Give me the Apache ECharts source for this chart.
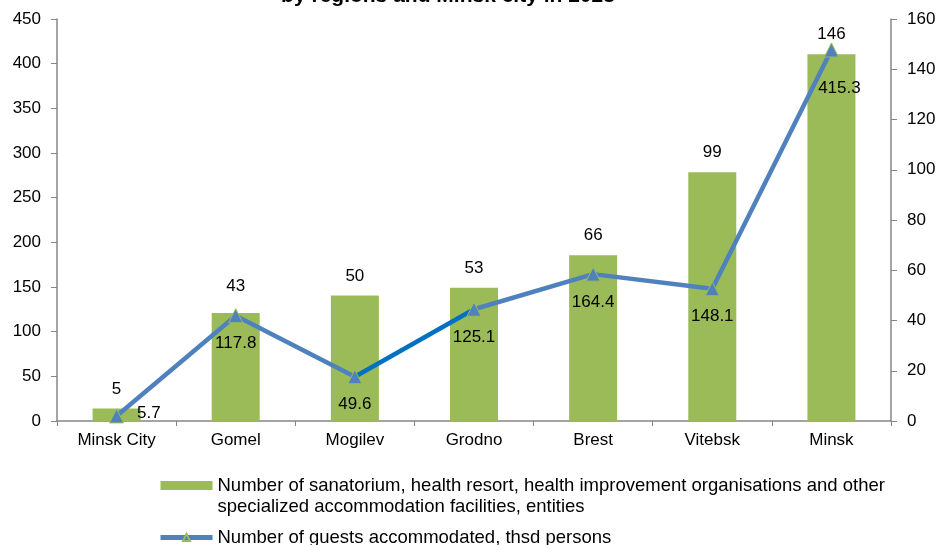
<!DOCTYPE html>
<html>
<head>
<meta charset="utf-8">
<script src="https://cdn.jsdelivr.net/npm/echarts@6/dist/echarts.min.js"></script>
<style>
  html, body { margin: 0; padding: 0; background: #fff; }
  #chart { width: 941px; height: 545px; }
</style>
</head>
<body>
<div id="chart"></div>
<script>
const regions = ["Minsk City", "Gomel", "Mogilev", "Grodno", "Brest", "Vitebsk", "Minsk"];
const facilities = [5, 43, 50, 53, 66, 99, 146];
const guests = [5.7, 117.8, 49.6, 125.1, 164.4, 148.1, 415.3];
const leftTicks = { min: 0, max: 450, interval: 50 };
const rightTicks = { min: 0, max: 160, interval: 20 };

const barName = "Number of sanatorium, health resort, health improvement organisations and other\nspecialized accommodation facilities, entities";
const lineName = "Number of guests accommodated, thsd persons";

const font = "'Liberation Sans', Arial, sans-serif";
const axisGray = "#868686";

const chart = echarts.init(document.getElementById("chart"));

// line: one segment (Mogilev -> Grodno) is drawn in a darker blue
const segStart = 2 / (regions.length - 1);
const segEnd = 3 / (regions.length - 1);
const lineColor = new echarts.graphic.LinearGradient(0, 0, 1, 0, [
  { offset: 0, color: "#4F81BD" },
  { offset: segStart, color: "#4F81BD" },
  { offset: segStart, color: "#0070C0" },
  { offset: segEnd, color: "#0070C0" },
  { offset: segEnd, color: "#4F81BD" },
  { offset: 1, color: "#4F81BD" }
]);

const barData = facilities.map((v, i) => {
  if (i === 1) return { value: v, label: { distance: 18 } };
  return v;
});
const lineData = guests.map((v, i) => {
  if (i === 0) return { value: v, label: { position: "right", distance: 13, offset: [0, -3] } };
  if (i === guests.length - 1) return { value: v, label: { offset: [8, 10] } };
  return v;
});

chart.setOption({
  backgroundColor: "#fff",
  animation: false,
  textStyle: { fontFamily: font },
  graphic: [{
    type: "text",
    x: 448,
    y: -3.5,
    style: {
      text: "by regions and Minsk city in 2023",
      font: "bold 21px " + font,
      fill: "#000",
      align: "center",
      verticalAlign: "middle"
    }
  }],
  grid: { left: 57, right: 50, top: 19, bottom: 124 },
  legend: {
    orient: "vertical",
    left: 153,
    top: 449,
    itemWidth: 52,
    itemHeight: 9,
    itemGap: 10,
    textStyle: {
      fontSize: 18.5, color: "#000", lineHeight: 21, fontFamily: font,
      rich: { g: { fontSize: 18.5, lineHeight: 21 } }
    },
    // empty first line keeps the icon level with the first text line
    formatter: (name) => name === barName ? "{g| }\n" + name : name,
    data: [
      { name: barName, icon: "rect" },
      { name: lineName, lineStyle: { color: "#4F81BD", width: 5 } }
    ]
  },
  xAxis: {
    type: "category",
    data: regions,
    axisLine: { lineStyle: { color: axisGray, width: 1.5 } },
    axisTick: { show: true, length: 5, lineStyle: { color: axisGray }, alignWithLabel: false },
    axisLabel: { color: "#000", fontSize: 17, margin: 11 }
  },
  yAxis: [
    {
      type: "value",
      position: "left",
      min: leftTicks.min,
      max: leftTicks.max,
      interval: leftTicks.interval,
      splitLine: { show: false },
      axisLine: { show: true, lineStyle: { color: axisGray, width: 1.5 } },
      axisTick: { show: true, inside: false, length: 6, lineStyle: { color: axisGray } },
      axisLabel: { color: "#000", fontSize: 17, margin: 16 }
    },
    {
      type: "value",
      position: "right",
      min: rightTicks.min,
      max: rightTicks.max,
      interval: rightTicks.interval,
      splitLine: { show: false },
      axisLine: { show: true, lineStyle: { color: axisGray, width: 1.5 } },
      axisTick: { show: true, inside: false, length: 6, lineStyle: { color: axisGray } },
      axisLabel: { color: "#000", fontSize: 17, margin: 16 }
    }
  ],
  series: [
    {
      name: barName,
      type: "bar",
      yAxisIndex: 1,
      barWidth: 48,
      data: barData,
      itemStyle: { color: "#9BBB59" },
      label: { show: true, position: "top", distance: 11, color: "#000", fontSize: 17 },
      z: 1
    },
    {
      name: lineName,
      type: "line",
      yAxisIndex: 0,
      data: lineData,
      symbol: "triangle",
      symbolSize: [14, 14],
      lineStyle: { color: lineColor, width: 4.5 },
      itemStyle: { color: "#4F81BD", borderColor: "#9BBB59", borderWidth: 1 },
      label: { show: true, position: "bottom", distance: 12, color: "#000", fontSize: 17 },
      z: 3
    }
  ]
});
</script>
</body>
</html>
